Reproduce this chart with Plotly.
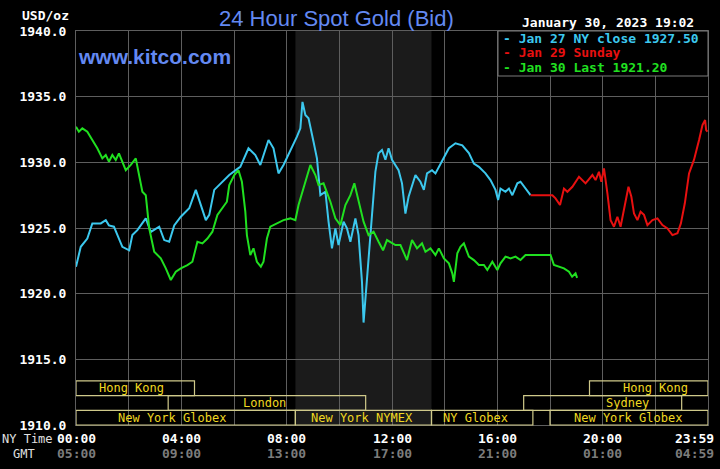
import plotly.graph_objects as go

# ---------------- data ----------------
jan27_hours = [0.0, 0.18, 0.43, 0.62, 0.94, 1.13, 1.25, 1.44, 1.76, 2.02, 2.14, 2.33, 2.65, 2.84, 3.16, 3.35,
               3.54, 3.73, 3.98, 4.30, 4.55, 4.80, 4.93, 5.06, 5.25, 5.50, 5.82, 6.13, 6.24, 6.55, 6.81, 7.00,
               7.31, 7.50, 7.69, 7.88, 8.20, 8.39, 8.52, 8.60, 8.71, 8.83, 9.02, 9.15, 9.28, 9.47, 9.59, 9.72,
               9.85, 9.97, 10.16, 10.29, 10.42, 10.61, 10.73, 10.86, 10.92, 11.05, 11.18, 11.37, 11.49, 11.62,
               11.75, 11.87, 12.00, 12.25, 12.38, 12.51, 12.63, 12.89, 13.08, 13.21, 13.33, 13.52, 13.65, 13.78,
               13.97, 14.16, 14.41, 14.67, 14.92, 15.11, 15.30, 15.55, 15.74, 15.93, 16.03, 16.12, 16.31, 16.44,
               16.57, 16.76, 16.88, 17.01, 17.14, 17.26]
jan27_values = [1922.05, 1923.57, 1924.2, 1925.35, 1925.35, 1925.6, 1925.2, 1925.1, 1923.57, 1923.3, 1924.46,
                1924.84, 1925.73, 1924.7, 1925.1, 1924.08, 1923.95, 1925.2, 1925.86, 1926.5, 1927.9, 1926.37,
                1925.6, 1926.0, 1927.9, 1928.4, 1929.03, 1929.5, 1929.66, 1931.07, 1930.56, 1929.8, 1931.7,
                1931.07, 1929.16, 1929.8, 1931.07, 1931.95, 1932.59, 1934.6, 1933.6, 1933.35, 1931.57, 1930.3,
                1927.5, 1927.76, 1925.48, 1923.45, 1924.97, 1923.7, 1925.48, 1924.97, 1923.95, 1925.73, 1924.46,
                1920.9, 1917.8, 1921.16, 1924.97, 1929.3, 1930.7, 1930.94, 1930.2, 1931.07, 1930.2, 1929.4,
                1928.4, 1926.1, 1927.38, 1929.03, 1928.52, 1927.9, 1929.16, 1929.4, 1929.16, 1929.66, 1930.4,
                1931.07, 1931.45, 1931.3, 1930.7, 1929.9, 1929.66, 1929.16, 1928.65, 1927.9, 1927.13, 1928.0,
                1927.76, 1928.0, 1927.5, 1928.4, 1928.52, 1928.14, 1927.76, 1927.5]

jan29_hours = [17.26, 18.09, 18.21, 18.38, 18.53, 18.66, 18.85, 19.10, 19.35, 19.61, 19.73, 19.86, 19.95, 20.05,
               20.18, 20.30, 20.43, 20.56, 20.68, 20.87, 20.98, 21.09, 21.19, 21.32, 21.44, 21.57, 21.70, 21.89,
               22.08, 22.27, 22.46, 22.65, 22.84, 22.97, 23.12, 23.28, 23.47, 23.66, 23.79, 23.89, 23.93, 23.98]
jan29_values = [1927.5, 1927.5, 1927.26, 1926.75, 1928.0, 1927.76, 1928.14, 1928.9, 1928.4, 1929.03, 1928.65,
                1929.28, 1928.52, 1929.54, 1927.64, 1925.6, 1925.1, 1925.86, 1925.1, 1927.13, 1928.14, 1927.38,
                1926.1, 1925.6, 1926.24, 1926.0, 1925.22, 1925.6, 1925.73, 1925.22, 1924.97, 1924.46, 1924.6,
                1925.35, 1926.88, 1929.16, 1930.2, 1931.7, 1932.84, 1933.22, 1932.46, 1932.33]

jan30_hours = [0.0, 0.11, 0.24, 0.43, 0.62, 0.81, 1.00, 1.13, 1.25, 1.38, 1.51, 1.63, 1.89, 2.08, 2.27, 2.40,
               2.52, 2.65, 2.78, 2.97, 3.22, 3.41, 3.60, 3.79, 3.98, 4.23, 4.42, 4.61, 4.80, 4.99, 5.18, 5.37,
               5.56, 5.73, 5.82, 6.01, 6.17, 6.30, 6.43, 6.49, 6.62, 6.74, 6.87, 7.02, 7.12, 7.25, 7.38, 7.63,
               7.88, 8.14, 8.33, 8.45, 8.64, 8.90, 9.09, 9.21, 9.40, 9.66, 9.85, 10.04, 10.23, 10.42, 10.57,
               10.73, 10.92, 11.11, 11.30, 11.49, 11.66, 11.81, 11.94, 12.13, 12.32, 12.57, 12.76, 12.95, 13.14,
               13.27, 13.46, 13.65, 13.78, 13.97, 14.16, 14.29, 14.35, 14.48, 14.60, 14.73, 14.92, 15.11, 15.30,
               15.49, 15.62, 15.81, 16.00, 16.12, 16.31, 16.50, 16.69, 16.88, 17.07, 17.33, 18.02, 18.15, 18.34,
               18.53, 18.72, 18.84, 18.97, 19.03]
jan30_values = [1932.71, 1932.33, 1932.59, 1932.33, 1931.7, 1931.07, 1930.3, 1930.56, 1930.05, 1930.56, 1930.18,
                1930.68, 1929.4, 1929.8, 1930.3, 1929.03, 1927.76, 1927.5, 1924.97, 1923.19, 1922.69, 1921.93,
                1921.04, 1921.67, 1921.93, 1922.18, 1922.43, 1923.95, 1923.83, 1924.2, 1924.72, 1926.0, 1926.5,
                1927.0, 1928.27, 1929.03, 1929.4, 1928.52, 1926.24, 1924.46, 1922.94, 1923.45, 1922.43, 1922.05,
                1922.43, 1924.2, 1925.1, 1925.35, 1925.6, 1925.73, 1925.6, 1926.75, 1928.0, 1929.8, 1929.03,
                1928.27, 1928.4, 1927.0, 1925.73, 1925.22, 1926.75, 1927.5, 1928.4, 1927.0, 1925.48, 1924.46,
                1924.72, 1923.95, 1923.3, 1924.08, 1923.95, 1923.7, 1923.7, 1922.56, 1924.08, 1923.45, 1923.83,
                1923.19, 1923.45, 1922.94, 1923.45, 1922.69, 1922.31, 1921.55, 1920.9, 1923.07, 1923.57, 1923.83,
                1922.82, 1922.56, 1922.18, 1922.18, 1921.8, 1922.43, 1921.8, 1922.31, 1922.82, 1922.69, 1922.82,
                1922.56, 1922.94, 1922.94, 1922.94, 1922.18, 1922.05, 1921.93, 1921.67, 1921.29, 1921.55, 1921.2]

series_names = ["Jan 27 NY close 1927.50", "Jan 29 Sunday", "Jan 30 Last 1921.20"]
series_colors = ["#3cc8ee", "#e81010", "#20e020"]

y_ticks = [1910, 1915, 1920, 1925, 1930, 1935, 1940]
y_tick_labels = ["%.1f" % v for v in y_ticks]

x_tick_hours = [0, 4, 8, 12, 16, 20, 24]
ny_labels = ["00:00", "04:00", "08:00", "12:00", "16:00", "20:00", "23:59"]
gmt_labels = ["05:00", "09:00", "13:00", "17:00", "21:00", "01:00", "04:59"]

pit_start, pit_end = 8 + 20 / 60, 13.5

# (name, row from top, start hour, end hour, label hour)
sessions = [
    ("Hong Kong", 0, 0.0, 4.5, 2.12),
    ("Hong Kong", 0, 19.5, 24.0, 22.02),
    ("London", 1, 3.5, 11.0, 7.14),
    ("Sydney", 1, 17.0, 23.0, 20.95),
    ("New York Globex", 2, 0.0, 8.33, 3.63),
    ("New York NYMEX", 2, 8.33, 13.5, 10.86),
    ("NY Globex", 2, 13.5, 17.35, 15.18),
    ("New York Globex", 2, 18.0, 24.0, 20.96),
]

# ---------------- layout geometry ----------------
W, H = 720, 469
L, R, T, B = 76, 12, 31, 44
PW, PH = W - L - R, H - T - B


def fx(px):
    return (px - L) / PW


def fy(py):
    return (H - B - py) / PH


MONO = "DejaVu Sans Mono"
SANS = "Liberation Sans"
GRID = "#5e5e5e"

fig = go.Figure()
for hrs, vals, name, col in zip([jan27_hours, jan29_hours, jan30_hours],
                                [jan27_values, jan29_values, jan30_values],
                                series_names, series_colors):
    fig.add_trace(go.Scatter(x=hrs, y=vals, mode="lines", name=name,
                             line=dict(color=col, width=2), showlegend=False))

shapes = []
# NYMEX pit shading
shapes.append(dict(type="rect", xref="x", yref="paper", x0=pit_start, x1=pit_end, y0=0, y1=1,
                   fillcolor="#1b1b1b", line=dict(width=0), layer="below"))

# session boxes
row_h = 14.7 / PH
annotations = []
for name, row, s, e, lab in sessions:
    y1 = (3 - row) * row_h
    y0 = y1 - row_h
    shapes.append(dict(type="rect", xref="x", yref="paper", x0=s, x1=e, y0=y0, y1=y1,
                       line=dict(color="#cfc98a", width=1.2), fillcolor="rgba(0,0,0,0)", layer="above"))
    annotations.append(dict(x=lab, y=(y0 + y1) / 2, xref="x", yref="paper", text=name, showarrow=False,
                            xanchor="center", yanchor="middle",
                            font=dict(family=MONO, size=12, color="#f0d820")))

# legend box
shapes.append(dict(type="rect", xref="paper", yref="paper", x0=fx(498), x1=fx(708), y0=fy(76), y1=fy(31),
                   fillcolor="#000000", line=dict(color="#7a7a7a", width=1), layer="above"))
for i, (name, col) in enumerate(zip(series_names, series_colors)):
    annotations.append(dict(x=fx(501), y=fy(39 + i * 14), xref="paper", yref="paper",
                            text="<b>- " + name + "</b>", showarrow=False, xanchor="left", yanchor="middle",
                            font=dict(family=MONO, size=13, color=col)))

# x tick labels (two rows)
for h, ny, gmt in zip(x_tick_hours, ny_labels, gmt_labels):
    last = h == x_tick_hours[-1]
    common = dict(x=h, xref="x", yref="paper", showarrow=False,
                  xanchor="right" if last else "center", xshift=8 if last else 0, yanchor="middle")
    annotations.append(dict(common, y=fy(438), text="<b>" + ny + "</b>",
                            font=dict(family=MONO, size=13, color="#ffffff")))
    annotations.append(dict(common, y=fy(453), text="<b>" + gmt + "</b>",
                            font=dict(family=MONO, size=13, color="#7c7c7c")))

annotations += [
    dict(x=fx(55), y=fy(439), xref="paper", yref="paper", text="NY Time", showarrow=False,
         xanchor="right", yanchor="middle", font=dict(family=MONO, size=12, color="#e0e0e0")),
    dict(x=fx(24), y=fy(454), xref="paper", yref="paper", text="GMT", showarrow=False,
         xanchor="center", yanchor="middle", font=dict(family=MONO, size=12, color="#e0e0e0")),
    dict(x=fx(71), y=fy(15), xref="paper", yref="paper", text="<b>USD/oz</b>", showarrow=False,
         xanchor="right", yanchor="middle", font=dict(family=MONO, size=13, color="#ffffff")),
    dict(x=fx(336), y=fy(18), xref="paper", yref="paper", text="24 Hour Spot Gold (Bid)", showarrow=False,
         xanchor="center", yanchor="middle", font=dict(family=SANS, size=22, color="#6389f2")),
    dict(x=fx(696), y=fy(23), xref="paper", yref="paper", text="<b>January 30, 2023 19:02</b>",
         showarrow=False, xanchor="right", yanchor="middle", font=dict(family=MONO, size=13, color="#ffffff")),
    dict(x=fx(76), y=fy(56), xref="paper", yref="paper", text="<b>www.kitco.com</b>", showarrow=False,
         xanchor="left", yanchor="middle", font=dict(family=SANS, size=21, color="#6389f2")),
]

fig.update_layout(
    width=W, height=H,
    margin=dict(l=L, r=R, t=T, b=B, pad=0, autoexpand=False),
    paper_bgcolor="#000000", plot_bgcolor="#000000",
    shapes=shapes, annotations=annotations,
    xaxis=dict(range=[0, 24], dtick=2, tick0=0, showgrid=True, gridcolor=GRID, gridwidth=1,
               showticklabels=False, zeroline=False, showline=True, linecolor=GRID, linewidth=1, mirror=True,
               fixedrange=True),
    yaxis=dict(range=[1910, 1940], tickvals=y_ticks, ticktext=y_tick_labels, showgrid=True, gridcolor=GRID,
               gridwidth=1, zeroline=False, showline=True, linecolor=GRID, linewidth=1, mirror=True,
               ticks="", ticklabelstandoff=6,
               tickfont=dict(family=MONO, size=13, color="#ffffff", weight="bold"), fixedrange=True),
    showlegend=False,
)

fig.write_html(
    "out.html",
    config={"displayModeBar": False},
    post_script="document.body.style.margin='0';document.body.style.background='#000';",
)
